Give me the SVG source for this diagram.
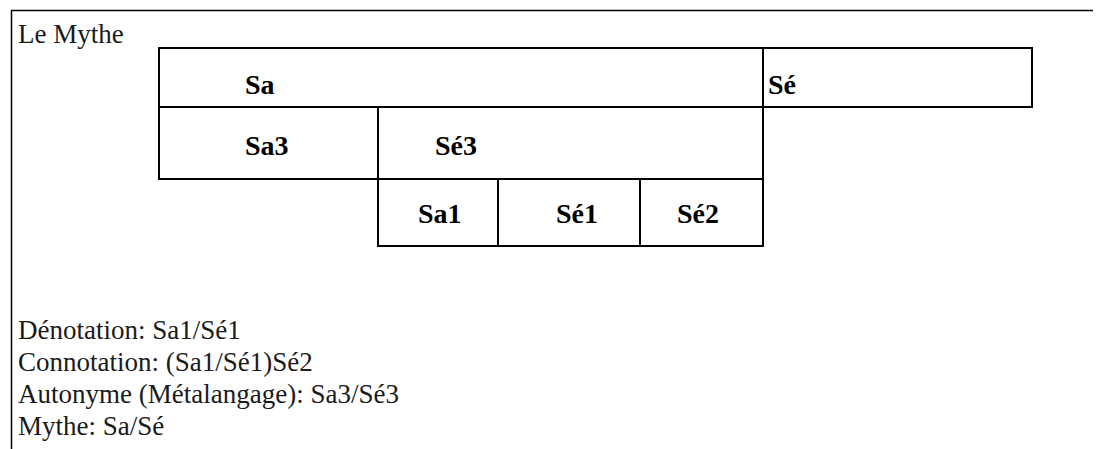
<svg xmlns="http://www.w3.org/2000/svg" width="1096" height="449" viewBox="0 0 1096 449">
<style>
.cell{fill:#fff;stroke:#000;stroke-width:2}
.lbl{font-family:"Liberation Serif",serif;font-weight:bold;font-size:28px;fill:#000}
.txt{font-family:"Liberation Serif",serif;font-size:27px;fill:#1a1a1a}
</style>
<rect width="1096" height="449" fill="#fff"/>
<g id="frame">
<path d="M11.5 449 V10.5 H1093" fill="none" stroke="#000" stroke-width="1.5"/>
<text class="txt" x="18" y="43" font-size="29">Le Mythe</text>
</g>
<g id="connectors"></g>
<g id="node-sa"><rect class="cell" x="159" y="48" width="604" height="59"/><text class="lbl" x="245" y="94">Sa</text></g>
<g id="node-se"><rect class="cell" x="763" y="48" width="269" height="59"/><text class="lbl" x="768" y="94">Sé</text></g>
<g id="node-sa3"><rect class="cell" x="159" y="107" width="219" height="72"/><text class="lbl" x="245" y="155">Sa3</text></g>
<g id="node-se3"><rect class="cell" x="378" y="107" width="385" height="72"/><text class="lbl" x="435" y="155">Sé3</text></g>
<g id="node-sa1"><rect class="cell" x="378" y="179" width="120" height="67"/><text class="lbl" x="418" y="223">Sa1</text></g>
<g id="node-se1"><rect class="cell" x="498" y="179" width="142" height="67"/><text class="lbl" x="556" y="223">Sé1</text></g>
<g id="node-se2"><rect class="cell" x="640" y="179" width="123" height="67"/><text class="lbl" x="677" y="223">Sé2</text></g>
<g id="legend">
<text class="txt" x="18" y="339">Dénotation: Sa1/Sé1</text>
<text class="txt" x="18" y="371">Connotation: (Sa1/Sé1)Sé2</text>
<text class="txt" x="18" y="403">Autonyme (Métalangage): Sa3/Sé3</text>
<text class="txt" x="18" y="435">Mythe: Sa/Sé</text>
</g>
</svg>
